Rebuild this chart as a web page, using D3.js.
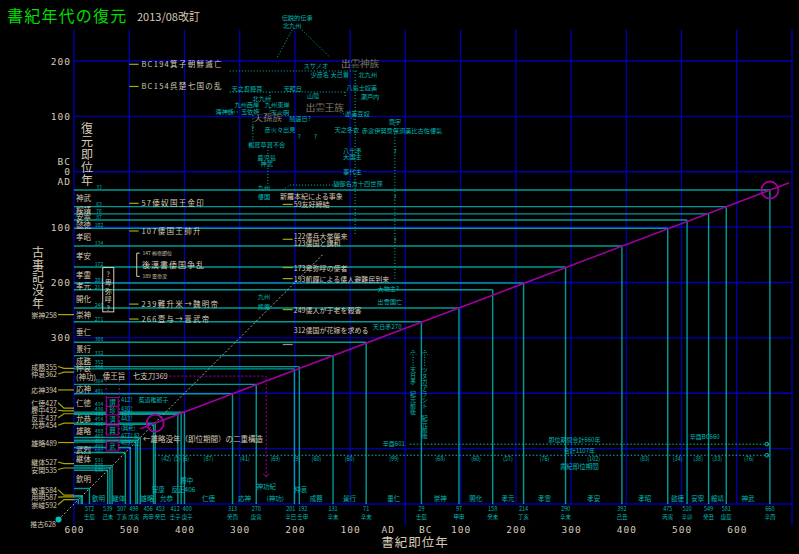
<!DOCTYPE html>
<html lang="ja">
<head>
<meta charset="utf-8">
<title>書紀年代の復元</title>
<script src="https://cdn.jsdelivr.net/npm/d3@7"></script>
<style>
  body { margin: 0; background: #000; }
  svg { display: block; font-family: "Noto Sans CJK JP", "Noto Sans", sans-serif; }
</style>
</head>
<body>
<svg id="chart" width="799" height="554"></svg>
<script>
// 天皇ごとの書紀即位年（BCは負）、復元即位年、在位年数、即位年干支
const emperorNames = ['神武', '綏靖', '安寧', '懿徳', '孝昭', '孝安', '孝霊', '孝元', '開化', '崇神', '垂仁', '景行', '成務', '仲哀', '神功', '応神', '仁徳', '履中', '反正', '允恭', '安康', '雄略', '清寧', '顕宗', '仁賢', '武烈', '継体', '安閑', '宣化', '欽明', '敏達', '用明', '崇峻', '推古'];
const bookYears = [-660, -581, -549, -510, -475, -392, -290, -214, -158, -97, -29, 71, 131, 192, 201, 270, 313, 400, 406, 412, 453, 456, 480, 485, 488, 498, 507, 531, 535, 539, 572, 585, 587, 592];
const restoredYears = [33, 63, 76, 87, 102, 134, 172, 201, 213, 246, 271, 308, 332, 352, 356, 384, 401, 434, 436, 438, 454, 456, 480, 485, 488, 498, 507, 531, 535, 539, 572, 585, 587, 592];
const reignYears = [76, 33, 38, 34, 83, 102, 76, 57, 60, 68, 99, 60, 60, 9, 69, 41, 87, 6, 5, 42, 3, 23, 5, 3, 11, 8, 25, 2, 4, 32, 14, 2, 5, 36];
const kanshi = ['辛酉', '庚辰', '癸丑', '辛卯', '丙寅', '己丑', '辛未', '丁亥', '癸未', '甲申', '壬辰', '辛未', '辛未', '壬申', '辛巳', '庚寅', '癸酉', '庚子', '丙午', '壬子', '癸巳', '丙申', '庚申', '乙丑', '戊辰', '戊寅', '丁亥', '辛亥', '乙卯', '己未', '壬辰', '乙巳', '丁未', '壬子'];

// 左側に名前を出す天皇、下に年を出さない天皇
const leftNamed = ['神武', '綏靖', '安寧', '懿徳', '孝昭', '孝安', '孝霊', '孝元', '開化', '崇神', '垂仁', '景行', '成務', '仲哀', '神功', '応神', '仁徳', '允恭', '雄略', '武烈', '継体', '欽明'];
const bottomYearHidden = ['清寧', '顕宗', '仁賢', '反正', '安閑', '宣化', '用明', '崇峻', '推古'];
const bottomNameHidden = ['清寧', '顕宗', '仁賢', '武烈', '安閑', '宣化', '敏達', '用明', '崇峻', '推古'];

// 古事記没年
const kojikiNames = ['崇神', '成務', '仲哀', '応神', '仁徳', '履中', '反正', '允恭', '雄略', '継体', '安閑', '敏達', '用明', '崇峻'];
const kojikiYears = [258, 355, 362, 394, 427, 432, 437, 454, 489, 527, 535, 584, 587, 592];
const suikoYear = 628;

// 復元線（書紀年→復元年）の両端、書紀年=復元年の対角線
const restoreLineBook = [480, -695];
const restoreLineYear = [464, 20];
const diagonalYears = [628, 150];

// 軸
const gridYearsX = [600, 500, 400, 300, 200, 100, 0, -100, -200, -300, -400, -500, -600, -700];
const gridYearsY = [-200, -100, 0, 100, 200, 300, 400, 500, 600];
const xTickYears = [600, 500, 400, 300, 200, 100, 32, -36, -100, -200, -300, -400, -500, -600];
const xTickLabels = ['600', '500', '400', '300', '200', '100', 'AD', 'BC', '100', '200', '300', '400', '500', '600'];
const yTickYears = [-200, -100, -18, 0, 18, 100, 200, 300];
const yTickLabels = ['200', '100', 'BC', '0', 'AD', '100', '200', '300'];

// 中国史書・新羅本紀の事象
const chinaEvents = ['BC194箕子朝鮮滅亡', 'BC154呉楚七国の乱', '57倭奴国王金印', '107倭国王帥升', '239難升米→魏明帝', '266壹与→晋武帝'];
const chinaEventYears = [-194, -154, 57, 107, 239, 266];
const sillaEvents = ['59友好締結', '122倭兵大挙襲来', '123倭国と講和', '173卑弥呼の使者', '193飢饉による倭人避難民到来', '249倭人が于老を殺害', '312倭国が花嫁を求める'];
const sillaEventYears = [59, 122, 123, 173, 193, 249, 312];

// 神話系譜（位置は年単位：横=書紀年、縦=復元年）
const treeTexts = ['伝説的伝承', '北九州', 'スサノオ', '出雲神族', '少彦名 大己貴', '北九州', '八島士奴美', '瀬戸内', '天之忍穂耳', '天照日', '北九州', '九州西岸', '九州東岸', '山陰', '出雲王族', '海神族', '玉依姫', '天火明', '天孫族', '饒速日?', '彦火々出見', '鵜葺草葺不合', '鹿児島', '神武', '九州', '倭国', '淤美豆奴', '天之冬衣', '意宇', '赤衾伊努意保須美比古佐倭氣', '八千矛', '大国主', '事代主', '建御名方十四世孫', '大物主?', '出雲国亡', '天日矛270', '九州', '熊襲', '?', '?', '?', '?', '?', '?'];
const treeX = [196, 205, 162, 82, 137, 68, 79, 64, 287, 204, 260, 287, 232, 167, 146, 327, 281, 227, 249, 191, 227, 251, 251, 251, 256, 256, 87, 106, 19, 6, 96, 96, 96, 86, 31, 28, 33, 256, 256, 277, 192, 163, 19, 19, 19];
const treeY = [-279, -265, -191, -194, -175, -175, -153, -135, -151, -151, -133, -121, -122, -137, -115, -108, -108, -107, -97, -97, -77, -50, -25, -14, 28, 44, -106, -77, -90, -75, -39, -27, 0, 22, 210, 235, 279, 226, 244, -79, -64, -64, -36, 47, 125];
const treeBig = ['出雲神族', '出雲王族', '天孫族'];
const treeLinks = [
  [205, -256, 232, -207], [187, -256, 137, -207], [318, -182, 86, -182], [91, -182, 91, 114],
  [19, -90, 19, 195], [318, -144, 109, -144], [245, -144, 245, -130], [109, -144, 109, -133],
  [327, -108, 300, -108], [276, -102, 276, -57], [249, -7, 249, 24], [118, -108, 91, -93],
  [222, 33, 209, 24], [209, 24, 118, 24], [249, -45, 249, -30], [245, -116, 245, -104],
];

// 倭の五王
const wuoNames = ['讃', '珍', '済', '興', '武'];
const wuoYears = [416, 432, 447, 467, 496];
const wuoNotes = ['412?', '430?', '437?', '443?', '(興死)', '477? 紀', '489? 記'];
const wuoNoteYears = [412, 428, 437, 446, 462, 477, 489];

const teal = '#009a96';
const tealText = '#00b8b4';
const blue = '#0000b0';
const magenta = '#a000a0';
const olive = '#a8a800';
const tan = '#d6cab6';

const svg = d3.select('#chart');
const x = d3.scaleLinear().domain([600, -700]).range([74, 792]);
const y = d3.scaleLinear().domain([-200, 600]).range([61, 504]);
const gridTop = y(-257);

const emperors = emperorNames.map((name, i) => ({
  name,
  book: bookYears[i],
  restored: restoredYears[i],
  reign: reignYears[i],
  kanshi: kanshi[i],
}));

function relax(values, gap) {
  const p = values.slice();
  for (let k = 0; k < 80; k += 1) {
    for (let i = 1; i < p.length; i += 1) {
      const d = p[i] - p[i - 1];
      if (d < gap) {
        p[i - 1] -= (gap - d) / 2;
        p[i] += (gap - d) / 2;
      }
    }
  }
  return p;
}

function label(g, px, py, s, size, fill, anchor = 'start', spacing = 0) {
  return g.append('text')
    .attr('x', px)
    .attr('y', py)
    .attr('text-anchor', anchor)
    .attr('fill', fill)
    .style('font-size', `${size}px`)
    .style('letter-spacing', `${spacing}px`)
    .text(s);
}

// タイトル
label(svg, 7, 22, '書紀年代の復元', 16, '#00dd00', 'start', 1.2);
label(svg, 137, 21, '2013/08改訂', 11, tan);

// グリッド
const grid = svg.append('g');
grid.selectAll('.gx')
  .data(gridYearsX)
  .enter()
  .append('line')
  .attr('x1', d => x(d))
  .attr('x2', d => x(d))
  .attr('y1', gridTop)
  .attr('y2', d => ((d === 600 || d === 0 || d === -700) ? 525 : y(600)))
  .attr('stroke', blue)
  .attr('stroke-width', 1.3);
grid.selectAll('.gy')
  .data(gridYearsY)
  .enter()
  .append('line')
  .attr('x1', x(600))
  .attr('x2', x(-700))
  .attr('y1', d => y(d))
  .attr('y2', d => y(d))
  .attr('stroke', blue)
  .attr('stroke-width', 1.3);

// 軸ラベル
const xAxis = svg.append('g')
  .attr('transform', `translate(0, ${y(600)})`)
  .call(d3.axisBottom(x).tickValues(xTickYears).tickFormat((d, i) => xTickLabels[i]).tickSize(0).tickPadding(22));
const yAxis = svg.append('g')
  .attr('transform', `translate(${x(600)}, 0)`)
  .call(d3.axisLeft(y).tickValues(yTickYears).tickFormat((d, i) => yTickLabels[i]).tickSize(0).tickPadding(3));
[xAxis, yAxis].forEach((ax) => {
  ax.select('.domain').remove();
  ax.selectAll('text')
    .attr('fill', tan)
    .style('font-size', '9.5px')
    .style('letter-spacing', '1px')
    .style('font-family', '"DejaVu Sans Mono", monospace');
});
label(svg, 415, 547, '書紀即位年', 12.5, tan, 'middle', 1);

['復', '元', '即', '位', '年'].forEach((c, i) => label(svg, 87, 133 + i * 13, c, 12, tan, 'middle'));
['古', '事', '記', '没', '年'].forEach((c, i) => label(svg, 38, 257 + i * 12.7, c, 12, tan, 'middle'));

// 天皇の水平線・垂直線
const lines = svg.append('g');
lines.selectAll('.h')
  .data(emperors)
  .enter()
  .append('line')
  .attr('x1', x(600))
  .attr('x2', d => x(d.book))
  .attr('y1', d => y(d.restored))
  .attr('y2', d => y(d.restored))
  .attr('stroke', teal)
  .attr('stroke-width', 1.4);
lines.selectAll('.v')
  .data(emperors)
  .enter()
  .append('line')
  .attr('x1', d => x(d.book))
  .attr('x2', d => x(d.book))
  .attr('y1', d => y(d.restored))
  .attr('y2', y(600))
  .attr('stroke', teal)
  .attr('stroke-width', 1.4);

// 対角線（書紀年＝復元年）と復元線
svg.append('line')
  .attr('x1', x(diagonalYears[0]))
  .attr('y1', y(diagonalYears[0]))
  .attr('x2', x(diagonalYears[1]))
  .attr('y2', y(diagonalYears[1]))
  .attr('stroke', '#a8a8a8')
  .attr('stroke-dasharray', '2,2');
svg.append('circle')
  .attr('cx', x(suikoYear))
  .attr('cy', y(suikoYear))
  .attr('r', 3)
  .attr('fill', '#00c0c0');
svg.append('line')
  .attr('x1', x(restoreLineBook[0]))
  .attr('y1', y(restoreLineYear[0]))
  .attr('x2', x(restoreLineBook[1]))
  .attr('y2', y(restoreLineYear[1]))
  .attr('stroke', magenta)
  .attr('stroke-width', 1.5);
[emperors[0], emperors[20]].forEach((d) => {
  svg.append('circle')
    .attr('cx', x(d.book))
    .attr('cy', y(d.restored))
    .attr('r', 8.5)
    .attr('fill', 'none')
    .attr('stroke', magenta)
    .attr('stroke-width', 1.8);
});

// 左側の天皇名と復元年（近いものは上下に振り分ける）
const left = svg.append('g');
const named = emperors
  .map((d, i) => ({ d, next: emperors[i + 1] }))
  .filter(o => leftNamed.includes(o.d.name));
const nameY = relax(named.map(o => (y(o.d.restored) + y(o.next.restored)) / 2 + 3), 7.5);
named.forEach((o, i) => label(left, 76, nameY[i], o.d.name === '神功' ? '(神功)' : o.d.name, 7.5, tan));
const numbered = emperors.filter(d => x(d.book) > 100);
const numberY = relax(numbered.map(d => y(d.restored) - 1), 5);
numbered.forEach((d, i) => label(left, 99, numberY[i], d.restored, 5, tealText, 'middle'));

// 古事記没年
const kojikiY = relax(kojikiYears.map(d => y(d)), 7.5);
kojikiYears.forEach((d, i) => {
  const ly = kojikiY[i];
  label(svg, 57, ly + 3, `${kojikiNames[i]}${d}`, 7, tan, 'end');
  svg.append('polyline')
    .attr('points', `58,${ly} 64,${y(d)} ${x(600)},${y(d)}`)
    .attr('fill', 'none')
    .attr('stroke', olive)
    .attr('stroke-width', 1.2);
});
label(svg, 56, y(suikoYear) + 7, `推古${suikoYear}`, 7, tan, 'end');

// 書紀即位年・干支（下段）：近いものは左右に振り分ける
const bottom = svg.append('g');
const shownYears = emperors.filter(d => !bottomYearHidden.includes(d.name)).reverse();
const yearX = relax(shownYears.map(d => x(d.book)), 12);
shownYears.forEach((d, i) => {
  label(bottom, yearX[i], y(600) + 7, Math.abs(d.book), 5.5, tealText, 'middle');
  label(bottom, yearX[i], y(600) + 15, d.kanshi, 5.5, tealText, 'middle');
});

// 天皇名（下段）
emperors.forEach((d, i) => {
  const next = emperors[i + 1];
  if (next && !bottomNameHidden.includes(d.name)) {
    const width = x(d.book) - x(next.book);
    const mx = (x(d.book) + x(next.book)) / 2;
    let ny = y(600) - 3;
    if (width < 12) ny = d.name === '履中' ? y(600) - 21 : y(600) - 12;
    let s = d.name;
    if (d.name === '神功') s = '(神功)';
    if (d.name === '反正') s = '反正406';
    label(bottom, mx + (width < 12 ? 4 : 0), ny, s, 6.5, tealText, 'middle');
  }
});

// 在位年数（書紀即位期間）
const reigned = emperors.filter(d => d.book <= 412).reverse();
const reignX = relax(reigned.map(d => x(d.book + d.reign / 2)), 9);
reigned.forEach((d, i) => label(bottom, reignX[i], y(512) + 6, `(${d.reign})`, 5.5, tealText, 'middle'));
label(bottom, x(-315), y(512) + 14, '書紀即位期間', 6.5, tealText, 'middle');

// 合計の点線
const totals = [
  { from: -8, to: -660, at: 492, text: '即位期間合計660年', textAt: -306 },
  { from: 454, to: -660, at: 512, text: '合計1107年', textAt: -315 },
];
totals.forEach((t) => {
  svg.append('line')
    .attr('x1', x(t.from))
    .attr('x2', x(t.to))
    .attr('y1', y(t.at))
    .attr('y2', y(t.at))
    .attr('stroke', tealText)
    .attr('stroke-dasharray', '1.5,2');
  label(svg, x(t.textAt), y(t.at) - 2.5, t.text, 6, tealText, 'middle');
  svg.append('circle')
    .attr('cx', x(t.to) - 3)
    .attr('cy', y(t.at))
    .attr('r', 1.8)
    .attr('fill', 'none')
    .attr('stroke', tealText);
});
label(svg, x(-542), y(492) - 5, '辛酉BC660', 6, tealText, 'middle');
label(svg, x(-8) - 5, y(492) + 2, '辛酉601', 6, tealText, 'end');

// 中国史書の事象
const events = svg.append('g');
chinaEventYears.forEach((d, i) => {
  events.append('line')
    .attr('x1', x(500))
    .attr('x2', x(483))
    .attr('y1', y(d))
    .attr('y2', y(d))
    .attr('stroke', olive)
    .attr('stroke-width', 1.2);
  label(events, x(478), y(d) + 3, chinaEvents[i], 7.5, tan, 'start', 1.3);
});

// 後漢書倭国争乱
events.append('path')
  .attr('d', `M${x(481)},${y(147)} h-3 V${y(189)} h3`)
  .attr('fill', 'none')
  .attr('stroke', tan);
label(events, x(476), y(147) + 2, '147 桓帝即位', 5, tan);
label(events, x(476), y(189) + 2, '189 霊帝没', 5, tan);
label(events, x(477), y(168) + 3, '後漢書倭国争乱', 8, tan, 'start', 1);

// 卑弥呼の箱
events.append('rect')
  .attr('x', x(548))
  .attr('y', y(173))
  .attr('width', x(528) - x(548))
  .attr('height', y(253) - y(173))
  .attr('fill', 'none')
  .attr('stroke', tan);
['?', '卑', '弥', '呼', '?'].forEach((c, i) => label(events, x(538), y(173) + 9 + i * 8.5, c, 7, tan, 'middle'));

// 新羅本紀の事象
label(events, x(227), y(44) + 3, '新羅本紀による事象', 7, tan);
const sillaY = relax(sillaEventYears.map(d => y(d)), 7);
sillaEventYears.forEach((d, i) => {
  const late = d === 312;
  const ty = late ? y(d) - 15 : sillaY[i];
  if (i === 0 || d - sillaEventYears[i - 1] > 2) {
    events.append('line')
      .attr('x1', x(222))
      .attr('x2', x(204))
      .attr('y1', y(d))
      .attr('y2', y(d))
      .attr('stroke', late ? '#909090' : olive)
      .attr('stroke-width', 1.2);
  }
  label(events, x(202), ty + 3, sillaEvents[i], 7, tan);
});

// 神話系譜
const tree = svg.append('g');
treeLinks.forEach((l) => {
  tree.append('line')
    .attr('x1', x(l[0]))
    .attr('y1', y(l[1]))
    .attr('x2', x(l[2]))
    .attr('y2', y(l[3]))
    .attr('stroke', tealText)
    .attr('stroke-dasharray', '1,2');
});
treeTexts.forEach((s, i) => {
  const big = treeBig.includes(s);
  const t = label(tree, x(treeX[i]), y(treeY[i]) + 2.5, s, big ? 9.5 : 6.2, big ? tan : tealText, 'middle');
  if (big) t.attr('stroke', '#000').attr('stroke-width', 0.3);
});

// 天日矛・ツヌガアラシト
[[-14, '天日矛　紀元前後'], [-35, 'ツヌガアラシト　紀元前後']].forEach(([bx, s]) => {
  tree.append('line')
    .attr('x1', x(bx))
    .attr('x2', x(bx))
    .attr('y1', y(350))
    .attr('y2', y(322))
    .attr('stroke', tealText)
    .attr('stroke-dasharray', '1,1.5');
  tree.append('path')
    .attr('d', `M${x(bx) - 3},${y(330)} L${x(bx)},${y(322)} L${x(bx) + 3},${y(330)}`)
    .attr('fill', 'none')
    .attr('stroke', tealText)
    .attr('stroke-dasharray', '1,1');
  label(tree, x(bx), y(353), s, 6, tealText, 'start')
    .style('writing-mode', 'vertical-rl');
});

// 倭の五王と七支刀
const wuo = svg.append('g');
[542, 518].forEach((bx) => {
  wuo.append('line')
    .attr('x1', x(bx))
    .attr('x2', x(bx))
    .attr('y1', y(376))
    .attr('y2', y(502))
    .attr('stroke', magenta)
    .attr('stroke-dasharray', '2,2');
});
wuoNames.forEach((s, i) => {
  wuo.append('rect')
    .attr('x', x(541))
    .attr('y', y(wuoYears[i]) - 4.5)
    .attr('width', x(520) - x(541))
    .attr('height', 9)
    .attr('fill', '#000')
    .attr('stroke', magenta);
  label(wuo, x(530.5), y(wuoYears[i]) + 2.5, s, 6.5, tealText, 'middle');
});
wuoNoteYears.forEach((d, i) => label(wuo, x(515), y(d) + 2, wuoNotes[i], 5.5, tealText));
label(wuo, x(548), y(369) + 3, '倭王旨　七支刀369', 7.5, tan);
wuo.append('path')
  .attr('d', `M${x(449)},${y(369)} H${x(252)} V${y(551)}`)
  .attr('fill', 'none')
  .attr('stroke', magenta)
  .attr('stroke-dasharray', '2,2');
wuo.append('path')
  .attr('d', `M${x(252) - 3},${y(545)} L${x(252)},${y(551)} L${x(252) + 3},${y(545)}`)
  .attr('fill', 'none')
  .attr('stroke', magenta);
label(wuo, x(252), y(569) + 2, '神功紀', 6.5, tealText, 'middle');
label(wuo, x(456), y(412) + 2, '菟道稚郎子', 6, tealText, 'middle');
label(wuo, x(475), y(483) + 3, '←雄略没年（即位期間）の二重構造', 7.5, tan);
</script>
</body>
</html>
